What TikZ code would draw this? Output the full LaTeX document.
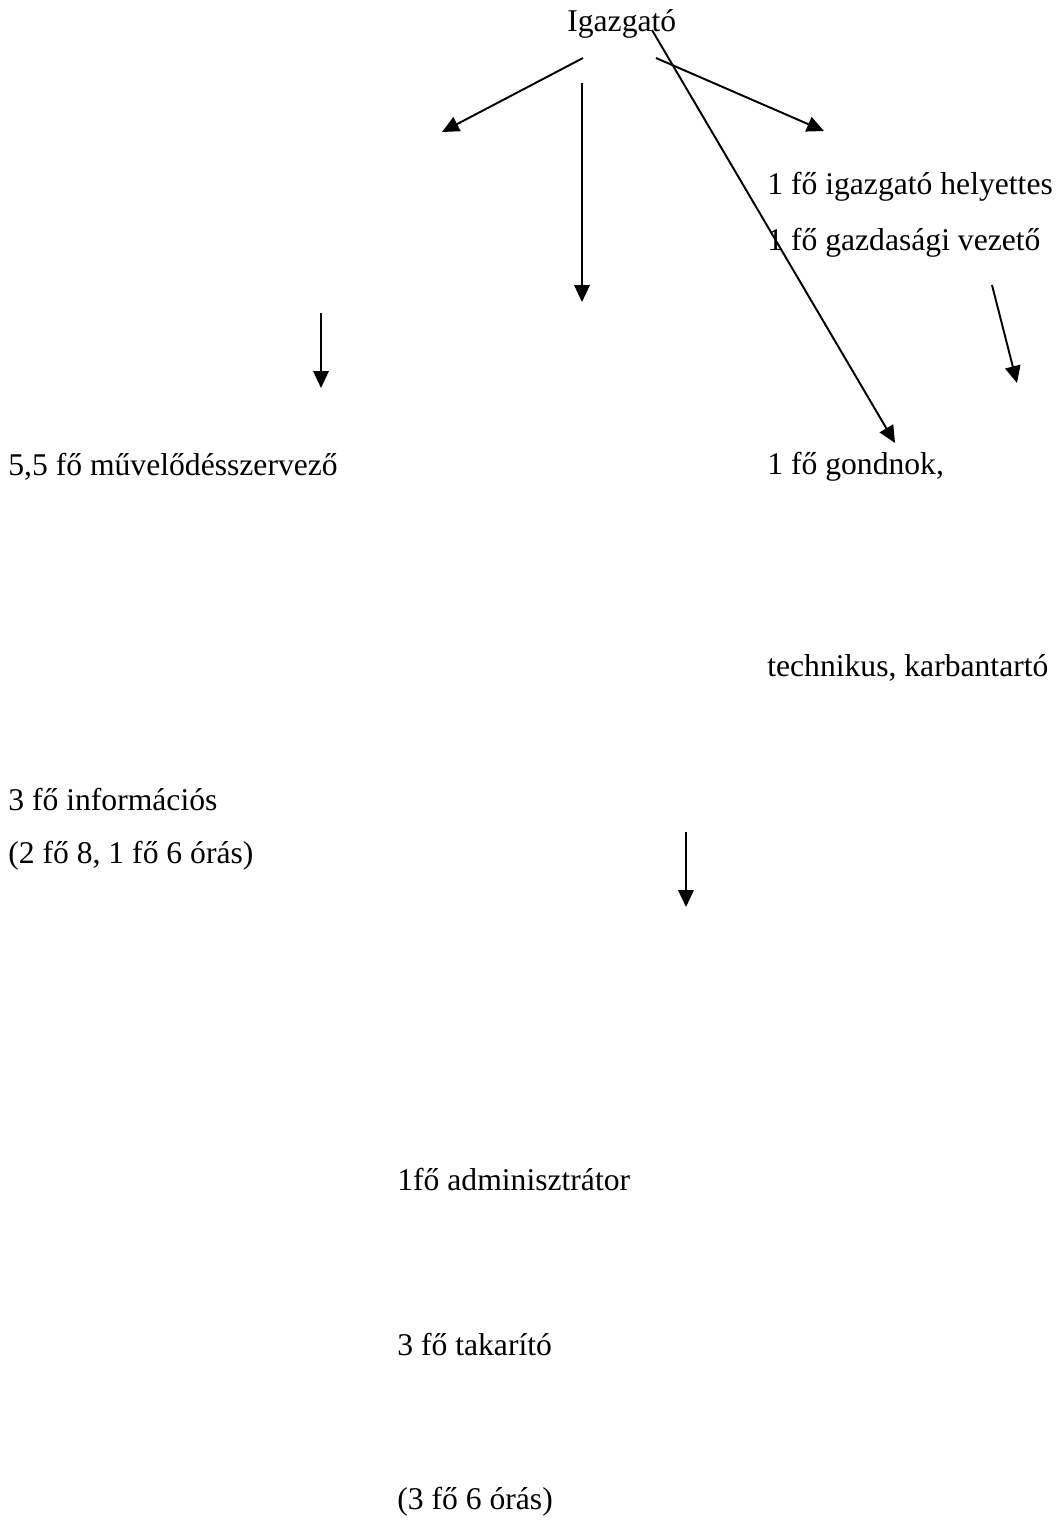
\documentclass[tikz,border=0pt]{standalone}
\usepackage{fontspec}
\setmainfont{Liberation Serif}
\usepackage{tikz}
\usetikzlibrary{arrows.meta}
\newcommand{\arrowcolor}{black}
\newcommand{\arrowwidth}{1.1pt}
\newcommand{\tiplen}{3.4mm}
\newcommand{\tipwid}{3.1mm}

\begin{document}
\begin{tikzpicture}[x=0.2mm,y=-0.2mm]
\tikzset{lbl/.style={anchor=west,inner sep=0pt,font=\rmfamily\fontsize{18}{22}\selectfont}}
\tikzset{arr/.style={draw=\arrowcolor,line width=\arrowwidth,-{Triangle[length=\tiplen,width=\tipwid]}}}
\useasboundingbox (0,0) rectangle (1058,1524);
\node[lbl] (igazgato) at (567, 24) {Igazgató};
\node[lbl] (helyettes) at (767, 187) {1 fő igazgató helyettes};
\node[lbl] (gazdasagi) at (767, 243) {1 fő gazdasági vezető};
\node[lbl] (muvelodes) at (8, 467) {5,5 fő művelődésszervező};
\node[lbl] (gondnok) at (767, 467) {1 fő gondnok,};
\node[lbl] (technikus) at (767, 668) {technikus, karbantartó};
\node[lbl] (informacios) at (8, 800) {3 fő információs};
\node[lbl] (oras) at (8, 856) {(2 fő 8, 1 fő 6 órás)};
\node[lbl] (admin) at (397, 1180) {1fő adminisztrátor};
\node[lbl] (takarito) at (397, 1345) {3 fő takarító};
\node[lbl] (takoras) at (397, 1502) {(3 fő 6 órás)};
%free ends
\coordinate (a1) at (583, 58);
\coordinate (b1) at (442, 132);
\coordinate (a2) at (582, 83);
\coordinate (b2) at (582, 302);
\coordinate (a3) at (652, 30);
\coordinate (b3) at (895, 443);
\coordinate (a4) at (656, 58);
\coordinate (b4) at (824, 131);
\coordinate (a5) at (992, 285);
\coordinate (b5) at (1017, 383);
\coordinate (a6) at (321, 313);
\coordinate (b6) at (321, 388);
\coordinate (a7) at (686, 832);
\coordinate (b7) at (686, 907);
%arrows
\draw[arr] (a1) -- (b1);
\draw[arr] (a2) -- (b2);
\draw[arr] (a3) -- (b3);
\draw[arr] (a4) -- (b4);
\draw[arr] (a5) -- (b5);
\draw[arr] (a6) -- (b6);
\draw[arr] (a7) -- (b7);
\end{tikzpicture}
\end{document}
